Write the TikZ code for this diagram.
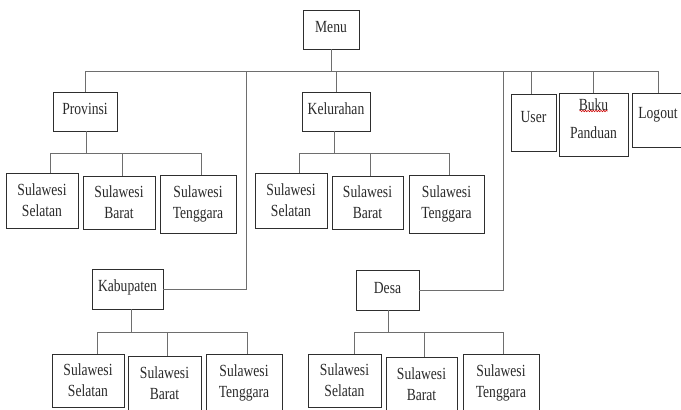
\documentclass[tikz,border=0pt]{standalone}
\usepackage{fontspec}
\setmainfont{Liberation Serif}[FakeStretch=0.8]
\usetikzlibrary{decorations.pathmorphing}
\definecolor{wire}{HTML}{6E6E6E}
\definecolor{frame}{HTML}{2E2E2E}
\definecolor{ink}{HTML}{2A2A2A}
\tikzset{
  box/.style={draw=frame, line width=0.9pt, fill=white, inner sep=0pt,
    align=center, text=ink, font=\fontsize{17}{21}\selectfont},
  txt/.style={inner sep=0pt, align=center, text=ink, font=\fontsize{17}{21}\selectfont},
  wire/.style={draw=wire, line width=1pt},
}
\newcommand{\bx}[6]{% name, cx, cy, w, h, text
  \node[box, minimum width=#4pt, minimum height=#5pt] (#1) at (#2,#3) {#6};}
\begin{document}
\begin{tikzpicture}[x=1pt, y=-1pt]
\useasboundingbox (0,0) rectangle (681,410);
\clip (0,0) rectangle (681,410);
\fill[white] (0,0) rectangle (681,410);

% top level
\bx{menu}{331}{29.5}{56}{39}{}
\node[txt] at ([yshift=2pt]menu.center) {Menu};
\bx{prov}{85}{111.5}{64}{39}{}
\node[txt] at ([yshift=2.5pt]prov.center) {Provinsi};
\bx{kel}{336}{111.5}{68}{39}{}
\node[txt] at ([yshift=2.5pt]kel.center) {Kelurahan};
\bx{kab}{127.5}{289}{71}{40}{}
\node[txt] at ([yshift=1.5pt]kab.center) {Kabupaten};
\bx{desa}{387.5}{290}{63}{40}{}
\node[txt] at ([yshift=1.5pt]desa.center) {Desa};
\bx{user}{533.5}{122.5}{45}{57}{}
\node[txt] at ([yshift=5pt]user.center) {User};
\bx{buku}{593.5}{124.5}{69}{63}{}
\node[txt, font=\fontsize{17}{28}\selectfont] at ([yshift=5.5pt]buku.center) {Buku\\Panduan};
\bx{logout}{658}{120}{52}{54}{}
\node[txt] at ([yshift=5pt]logout.center) {Logout};

% main bus
\coordinate (busL) at (85,71);
\coordinate (busR) at (658,71);
\coordinate (jkab) at (246,71);
\coordinate (jdesa) at (503,71);
\draw[wire] (busL) -- (busR);
\draw[wire] (menu.south) -- (menu.south |- busL);
\draw[wire] (busL) -- (prov.north);
\draw[wire] (kel.north |- busL) -- (kel.north);
\draw[wire] (jkab) |- (kab.east);
\draw[wire] (jdesa) |- (desa.east);
\draw[wire] ([xshift=-2.5pt]user.north |- busL) -- ([xshift=-2.5pt]user.north);
\draw[wire] (buku.north |- busL) -- (buku.north);
\draw[wire] (busR) -- (logout.north);

% spell-check mark under "Buku"
\draw[red!80!black, line width=0.6pt, decorate,
  decoration={snake, amplitude=0.7pt, segment length=2.6pt}] (579.5,111) -- (607.5,111);

% Provinsi
\bx{ps1}{42}{200.5}{72}{55}{Sulawesi\\Selatan}
\bx{ps2}{119}{202.5}{72}{53}{Sulawesi\\Barat}
\bx{ps3}{198}{204}{76}{58}{Sulawesi\\Tenggara}
\coordinate (pbus) at (0,153);
\draw[wire] ([xshift=1pt]prov.south) -- ([xshift=1pt]prov.south |- pbus);
\draw[wire] ([xshift=8pt]ps1.north |- pbus) -- ([xshift=3pt]ps3.north |- pbus);
\draw[wire] ([xshift=8pt]ps1.north |- pbus) -- ([xshift=8pt]ps1.north);
\draw[wire] ([xshift=3pt]ps2.north |- pbus) -- ([xshift=3pt]ps2.north);
\draw[wire] ([xshift=3pt]ps3.north |- pbus) -- ([xshift=3pt]ps3.north);

% Kelurahan
\bx{ks1}{291}{200.5}{72}{55}{Sulawesi\\Selatan}
\bx{ks2}{367.5}{202.5}{71}{53}{Sulawesi\\Barat}
\bx{ks3}{446.5}{204}{75}{58}{Sulawesi\\Tenggara}
\coordinate (kbus) at (0,153);
\draw[wire] ([xshift=-2pt]kel.south) -- ([xshift=-2pt]kel.south |- kbus);
\draw[wire] ([xshift=8pt]ks1.north |- kbus) -- ([xshift=2.5pt]ks3.north |- kbus);
\draw[wire] ([xshift=8pt]ks1.north |- kbus) -- ([xshift=8pt]ks1.north);
\draw[wire] ([xshift=2.5pt]ks2.north |- kbus) -- ([xshift=2.5pt]ks2.north);
\draw[wire] ([xshift=2.5pt]ks3.north |- kbus) -- ([xshift=2.5pt]ks3.north);

% Kabupaten
\bx{bs1}{88}{380.5}{72}{53}{Sulawesi\\Selatan}
\bx{bs2}{164.5}{383}{73}{54}{Sulawesi\\Barat}
\bx{bs3}{244}{383}{76}{58}{Sulawesi\\Tenggara}
\coordinate (bbus) at (0,332);
\draw[wire] ([xshift=3.5pt]kab.south) -- ([xshift=3.5pt]kab.south |- bbus);
\draw[wire] ([xshift=9pt]bs1.north |- bbus) -- ([xshift=3pt]bs3.north |- bbus);
\draw[wire] ([xshift=9pt]bs1.north |- bbus) -- ([xshift=9pt]bs1.north);
\draw[wire] ([xshift=2.5pt]bs2.north |- bbus) -- ([xshift=2.5pt]bs2.north);
\draw[wire] ([xshift=3pt]bs3.north |- bbus) -- ([xshift=3pt]bs3.north);

% Desa
\bx{ds1}{344.5}{380.5}{73}{53}{Sulawesi\\Selatan}
\bx{ds2}{421.5}{384}{71}{54}{Sulawesi\\Barat}
\bx{ds3}{501}{383}{76}{58}{Sulawesi\\Tenggara}
\coordinate (dbus) at (0,332);
\draw[wire] ([xshift=0.5pt]desa.south) -- ([xshift=0.5pt]desa.south |- dbus);
\draw[wire] ([xshift=9.5pt]ds1.north |- dbus) -- ([xshift=2pt]ds3.north |- dbus);
\draw[wire] ([xshift=9.5pt]ds1.north |- dbus) -- ([xshift=9.5pt]ds1.north);
\draw[wire] ([xshift=2.5pt]ds2.north |- dbus) -- ([xshift=2.5pt]ds2.north);
\draw[wire] ([xshift=2pt]ds3.north |- dbus) -- ([xshift=2pt]ds3.north);
\end{tikzpicture}
\end{document}
